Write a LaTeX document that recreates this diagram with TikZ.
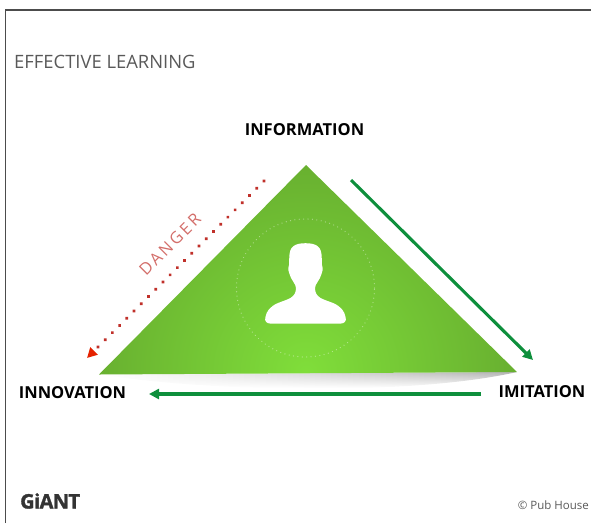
\documentclass[tikz,border=0pt]{standalone}
\usepackage{fontspec}
\setmainfont{Open Sans}
\usetikzlibrary{arrows.meta, calc, fadings, positioning}

\definecolor{leafdark}{HTML}{5F9E2C}
\definecolor{leaflight}{HTML}{80DE3A}
\definecolor{arrowgreen}{HTML}{0E8F3C}
\definecolor{dangerred}{HTML}{C0302A}

\tikzset{
    corner/.style={font=\bfseries\fontsize{16.5}{18}\selectfont, text=black, inner sep=0pt},
    caption/.style={text=black!65, inner sep=0pt},
    flow/.style={draw=arrowgreen, line width=3.1pt, -{Triangle[length=10pt,width=10pt]}},
}

\begin{document}
\begin{tikzpicture}[x=1pt, y=-1pt]
    \useasboundingbox (0,0) rectangle (591,523);

    \draw [black!70, line width=1.2pt] (5.5,523) -- (5.5,10) -- (591,10);

    \coordinate (Top) at (306,165);
    \coordinate (Left) at (99,374.5);
    \coordinate (Right) at (517,372);

    \begin{scope}
        \clip (Left) .. controls (230,394) and (420,394) .. (Right) -- cycle;
        \shade [left color=white, middle color=black!70, right color=black!30, path fading=south] (99,372) rectangle (517,388);
    \end{scope}
    \begin{scope}
        \clip (Top) -- (Left) -- (Right) -- cycle;
        \shade [inner color=leaflight, outer color=leafdark] (16,82) rectangle (596,662);
    \end{scope}

    \draw [white, opacity=0.4, line width=1.3pt, line cap=round, dash pattern=on 0.01pt off 4.4pt] (305.5,288) circle [radius=69pt];
    \fill [white] (270,323.5)
        .. controls (266.5,323.5) and (264.5,321) .. (265.3,317.5)
        .. controls (266.5,311) and (270,306.5) .. (278,303)
        .. controls (288,299) and (296,298) .. (296,288)
        .. controls (296,284) and (291,280) .. (289.5,274)
        .. controls (288,271) and (288,269) .. (289,265)
        -- (289.3,257)
        .. controls (289.5,247) and (294,243.2) .. (305.5,243.2)
        .. controls (317,243.2) and (321.5,247) .. (321.7,257)
        -- (322,265)
        .. controls (323,269) and (323,271) .. (321.5,274)
        .. controls (320,280) and (315,284) .. (315,288)
        .. controls (315,298) and (323,299) .. (333,303)
        .. controls (341,306.5) and (344.5,311) .. (345.7,317.5)
        .. controls (346.5,321) and (344.5,323.5) .. (341,323.5)
        -- cycle;

    \node [corner] (Information) at (304.5,129.5) {INFORMATION};
    \node [corner] (Innovation) at (72.5,392.5) {INNOVATION};
    \node [corner] (Imitation) at (542,391.5) {IMITATION};

    \coordinate (InfoEnd) at (351,180);
    \coordinate (ImitStart) at (533,360);
    \coordinate (ImitEnd) at (481,394);
    \coordinate (InnoStart) at (149,394);
    \coordinate (DangerStart) at (264,181);
    \coordinate (DangerEnd) at (87,358);

    \draw [flow] (InfoEnd) -- (ImitStart);
    \draw [flow] (ImitEnd) -- (InnoStart);
    \draw [dangerred, line width=3.8pt, line cap=round, dash pattern=on 0.01pt off 10.2pt,
        -{Triangle[length=10pt,width=10pt,color=red!70!orange!90!black]}] (DangerStart) -- (DangerEnd);

    \node [rotate=45, text=dangerred!70, inner sep=0pt, font=\fontsize{16.5}{18}\selectfont\addfontfeature{LetterSpace=16}] (Danger) at (170,244.5) {DANGER};

    \node [caption, anchor=west, font=\fontsize{18.4}{22}\selectfont] (Title) at (14,61.5) {EFFECTIVE LEARNING};
    \node [anchor=west, inner sep=0pt, text=black!80, font=\bfseries\fontsize{20}{22}\selectfont\addfontfeature{FakeBold=1.5,LetterSpace=-3}] (Logo) at (20,501) {GiANT};
    \node [caption, anchor=east, font=\fontsize{11.5}{13}\selectfont] (Credit) at (589,505) {© Pub House};
\end{tikzpicture}
\end{document}
